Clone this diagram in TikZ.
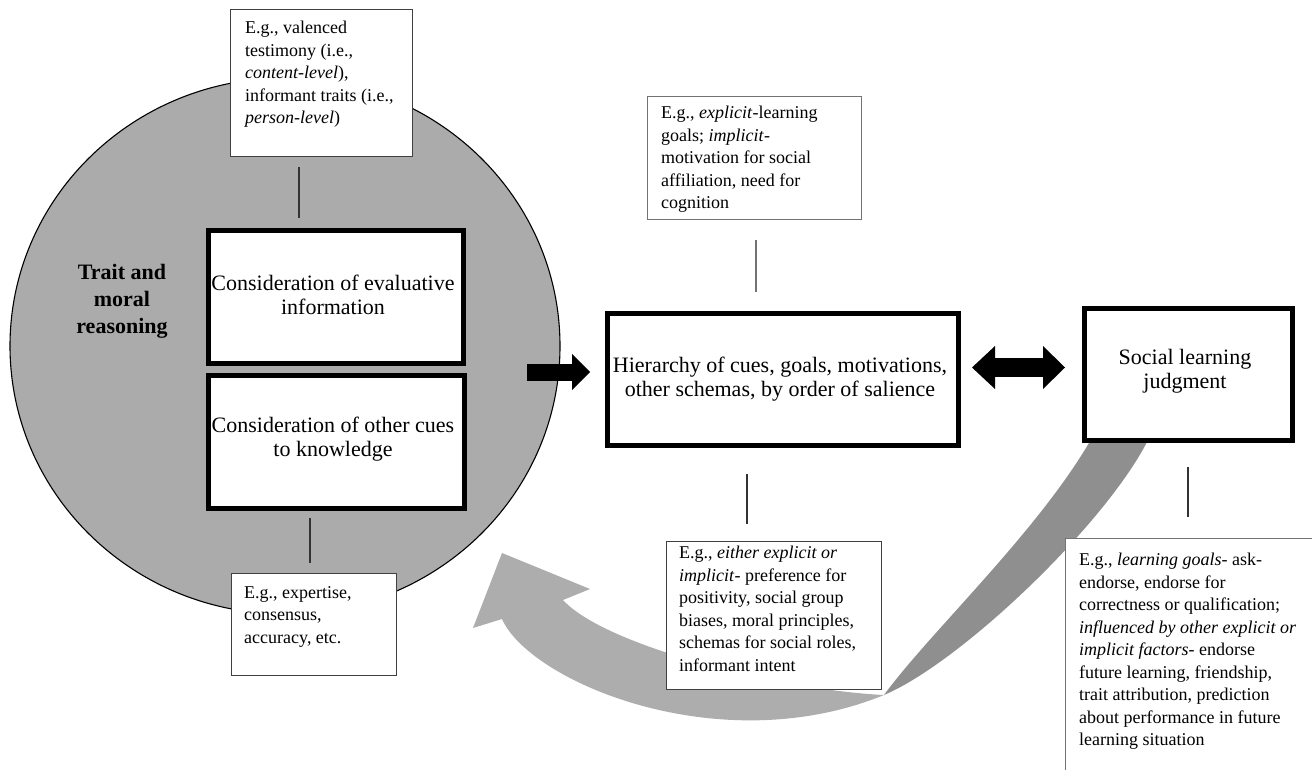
\documentclass[tikz,border=0pt]{standalone}
\usepackage{fontspec}
\setmainfont{Liberation Serif}
\usetikzlibrary{arrows.meta,calc,shapes.geometric}
\definecolor{circgray}{gray}{0.67}
\definecolor{bandlight}{gray}{0.68}
\definecolor{banddark}{gray}{0.56}
\tikzset{
  mainbox/.style={draw=black, line width=5pt, fill=white, inner sep=0pt, anchor=north west},
  smallbox/.style={draw=black!75, line width=1.1pt, fill=white, inner sep=0pt, anchor=north west},
  maintext/.style={font=\fontsize{22}{24}\selectfont, align=center, inner sep=0pt},
  boldtext/.style={font=\bfseries\fontsize{22}{27}\selectfont, align=center, inner sep=0pt},
  smalltext/.style={font=\fontsize{18}{22.5}\selectfont, align=left, inner sep=0pt, anchor=north west},
  conn/.style={line width=1.1pt, black!80},
  bigarrow/.style={line width=17pt, -{Triangle[length=18pt,width=36pt,line width=0pt]}},
  dblarrow/.style={line width=19pt, {Triangle[length=23pt,width=43pt,line width=0pt]}-{Triangle[length=22pt,width=43pt,line width=0pt]}}
}
\begin{document}
\begin{tikzpicture}[x=1pt,y=-1pt]
\useasboundingbox (0,0) rectangle (1312,770);
\clip (0,0) rectangle (1312,770);
\fill[white] (0,0) rectangle (1312,770);

% big circle
\node[ellipse, draw=black, line width=1.1pt, fill=circgray, minimum width=550pt, minimum height=536pt, inner sep=0pt] (circ) at (285,346) {};

% curved feedback arrow (light part with head)
\fill[bandlight] (563,600) -- (590,589) -- (502,553) -- (473,628) -- (502,619)
  .. controls (530,682) and (720,762) .. (884,695)
  .. controls (780,690) and (605,646) .. (563,600) -- cycle;
% curved feedback arrow (dark back part)
\fill[banddark] (884,695) .. controls (962,662) and (1110,520) .. (1150,436)
  -- (1093,436) .. controls (1040,530) and (930,632) .. (884,695) -- cycle;

% connector lines
\coordinate (c1a) at (299,167); \coordinate (c1b) at (299,218);
\coordinate (c2a) at (310,518); \coordinate (c2b) at (310,563);
\coordinate (c3a) at (756,240); \coordinate (c3b) at (756,292);
\coordinate (c4a) at (747,474); \coordinate (c4b) at (747,524);
\coordinate (c5a) at (1188,467); \coordinate (c5b) at (1188,517);
\draw[conn] (c1a) -- (c1b);
\draw[conn] (c2a) -- (c2b);
\draw[conn, black!55] (c3a) -- (c3b);
\draw[conn] (c4a) -- (c4b);
\draw[conn] (c5a) -- (c5b);

% main boxes
\node[mainbox, minimum width=255pt, minimum height=132pt] (ev) at (205.5,228.5) {};
\node[mainbox, minimum width=256pt, minimum height=133pt] (ot) at (205.5,372.5) {};
\node[mainbox, minimum width=351pt, minimum height=132pt] (hier) at (604.5,310.5) {};
\node[mainbox, minimum width=208pt, minimum height=132pt] (soc) at (1081.5,305.5) {};

% small boxes
\node[smallbox, minimum width=182pt, minimum height=147pt] (tl) at (230,9) {};
\node[smallbox, minimum width=214pt, minimum height=123pt, draw=black!55] (tm) at (647,96) {};
\node[smallbox, minimum width=165pt, minimum height=102pt] (bl) at (231,573) {};
\node[smallbox, minimum width=215pt, minimum height=148pt] (bm) at (666,541) {};
\node[smallbox, minimum width=260pt, minimum height=240pt, draw=black!55] (br) at (1065,538) {};

% texts
\node[boldtext] (trait) at (122,301) {Trait and\\moral\\reasoning};
\node[maintext] (evt) at (333,295) {Consideration of evaluative\\information};
\node[maintext] (ott) at (333,439) {Consideration of other cues\\to knowledge};
\node[maintext] (hiert) at (780,379) {Hierarchy of cues, goals, motivations,\\other schemas, by order of salience};
\node[maintext] (soct) at (1185,371.5) {Social learning\\judgment};

\node[smalltext] (tlt) at (245,21) {E.g., valenced\\testimony (i.e.,\\\textit{content-level}),\\informant traits (i.e.,\\\textit{person-level})};
\node[smalltext] (tmt) at (661,106) {E.g., \textit{explicit}-learning\\goals; \textit{implicit}-\\motivation for social\\affiliation, need for\\cognition};
\node[smalltext] (blt) at (244,586) {E.g., expertise,\\consensus,\\accuracy, etc.};
\node[smalltext] (bmt) at (679,546) {E.g., \textit{either explicit or}\\\textit{implicit}- preference for\\positivity, social group\\biases, moral principles,\\schemas for social roles,\\informant intent};
\node[smalltext] (brt) at (1079,553) {E.g., \textit{learning goals}- ask-\\endorse, endorse for\\correctness or qualification;\\\textit{influenced by other explicit or}\\\textit{implicit factors}- endorse\\future learning, friendship,\\trait attribution, prediction\\about performance in future\\learning situation};

% thick arrows
\coordinate (a1s) at (527,372); \coordinate (a1e) at (590,372);
\draw[bigarrow] (a1s) -- (a1e);
\coordinate (a2s) at (972,367.5); \coordinate (a2e) at (1065,367.5);
\draw[dblarrow] (a2s) -- (a2e);
\end{tikzpicture}
\end{document}
